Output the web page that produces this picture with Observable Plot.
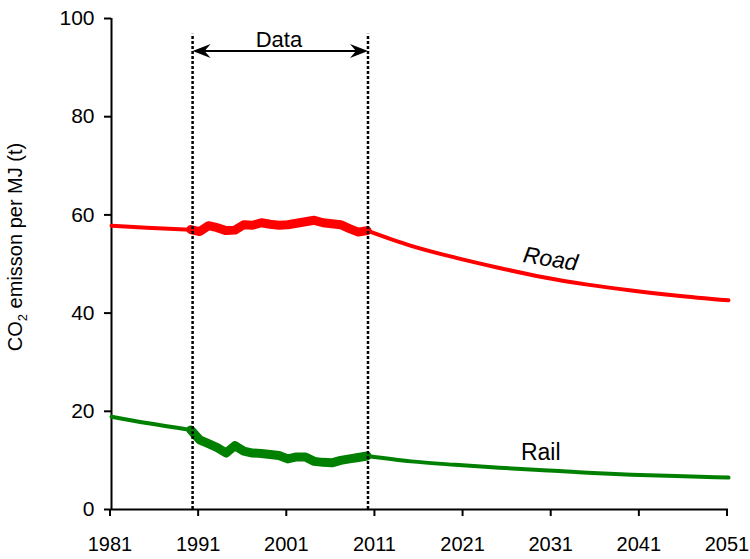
<!DOCTYPE html>
<html>
<head>
<meta charset="utf-8">
<script src="https://cdn.jsdelivr.net/npm/d3@7"></script>
<script src="https://cdn.jsdelivr.net/npm/@observablehq/plot@0.6"></script>
<style>
  html, body { margin: 0; padding: 0; background: #ffffff; }
  #chart { width: 750px; height: 559px; }
</style>
</head>
<body>
<div id="chart"></div>
<script>
// ---- data ----
const dataYears = [1990, 1991, 1992, 1993, 1994, 1995, 1996, 1997, 1998, 1999, 2000,
                   2001, 2002, 2003, 2004, 2005, 2006, 2007, 2008, 2009, 2010];
const roadData = [57.0, 56.6, 57.8, 57.4, 56.8, 56.9, 58.0, 57.9, 58.4, 58.1, 57.9,
                  58.0, 58.3, 58.6, 58.9, 58.4, 58.2, 58.0, 57.2, 56.5, 56.8];
const railData = [16.2, 14.2, 13.4, 12.6, 11.5, 13.0, 11.9, 11.5, 11.4, 11.2, 11.0,
                  10.3, 10.7, 10.7, 9.8, 9.6, 9.5, 10.0, 10.3, 10.6, 10.9];

const pastYears = [1981, 1985, 1990];
const roadPast = [57.8, 57.4, 57.0];
const railPast = [18.9, 17.6, 16.2];

const projYears = [2010, 2015, 2020, 2025, 2030, 2035, 2040, 2045, 2051];
const roadProj = [56.8, 53.7, 51.3, 49.2, 47.3, 45.8, 44.6, 43.6, 42.6];
const railProj = [10.9, 9.8, 9.1, 8.5, 8.0, 7.5, 7.1, 6.8, 6.5];

const xTicks = [1981, 1991, 2001, 2011, 2021, 2031, 2041, 2051];
const yTicks = [0, 20, 40, 60, 80, 100];

const dataPeriod = [1990.2, 2010.1];
const dataTop = 96.8;
const arrowLevel = 93.4;

const seriesLabels = [
  {text: "Road", year: 2030.8, value: 51.0, rotate: 9},
  {text: "Rail", year: 2029.7, value: 11.6, rotate: 0}
];
const periodLabel = [{text: "Data", year: 2000.0, value: 95.7}];

const ROAD = "#ff0000", RAIL = "#008000";

// ---- build tables ----
const mk = (xs, ys) => xs.map((x, i) => ({year: x, value: ys[i]}));
const roadDataT = mk(dataYears, roadData), railDataT = mk(dataYears, railData);
const roadPastT = mk(pastYears, roadPast), railPastT = mk(pastYears, railPast);
const roadProjT = mk(projYears, roadProj), railProjT = mk(projYears, railProj);

const arrowHead = {
  draw(ctx) {
    ctx.moveTo(0, 0);
    ctx.lineTo(-18, -7);
    ctx.lineTo(-12, 0);
    ctx.lineTo(-18, 7);
    ctx.closePath();
  }
};

const chart = Plot.plot({
  width: 750,
  height: 559,
  marginLeft: 111,
  marginRight: 22,
  marginTop: 18,
  marginBottom: 50,
  style: {fontFamily: "'Liberation Sans', Arial, sans-serif", fontSize: "20px", background: "#ffffff", color: "#000"},
  x: {domain: [1981, 2051]},
  y: {domain: [0, 100]},
  marks: [
    Plot.axisX({ticks: xTicks, tickFormat: d => String(d), tickSize: 7, tickPadding: 20, fontSize: 20, dx: -1.5, strokeWidth: 2, label: null}),
    Plot.axisY({ticks: yTicks, tickFormat: d => String(d), tickSize: 7, tickPadding: 10, fontSize: 21, strokeWidth: 2, label: null}),
    Plot.ruleY([0], {x1: 1981, x2: 2051, stroke: "#000", strokeWidth: 2}),
    Plot.ruleX([1981], {y1: 0, y2: 100, stroke: "#000", strokeWidth: 2}),
    // thin model lines
    Plot.line(roadPastT, {x: "year", y: "value", stroke: ROAD, strokeWidth: 4, curve: "monotone-x"}),
    Plot.line(roadProjT, {x: "year", y: "value", stroke: ROAD, strokeWidth: 4, curve: "monotone-x"}),
    Plot.line(railPastT, {x: "year", y: "value", stroke: RAIL, strokeWidth: 4, curve: "monotone-x"}),
    Plot.line(railProjT, {x: "year", y: "value", stroke: RAIL, strokeWidth: 4, curve: "monotone-x"}),
    // thick data lines
    Plot.line(roadDataT, {x: "year", y: "value", stroke: ROAD, strokeWidth: 9, strokeLinejoin: "round", curve: "linear"}),
    Plot.line(railDataT, {x: "year", y: "value", stroke: RAIL, strokeWidth: 9, strokeLinejoin: "round", curve: "linear"}),
    // data period markers
    Plot.ruleX(dataPeriod, {y1: 0, y2: dataTop, stroke: "#000", strokeWidth: 2.5, strokeDasharray: "3,2"}),
    Plot.ruleY([arrowLevel], {x1: dataPeriod[0] + 1.2, x2: dataPeriod[1] - 1.2, stroke: "#000", strokeWidth: 2}),
    Plot.dot([{year: dataPeriod[1], r: 0}, {year: dataPeriod[0], r: 180}], {
      x: "year", y: () => arrowLevel, symbol: arrowHead, rotate: "r", fill: "#000", stroke: "none", r: 5
    }),
    Plot.text(periodLabel, {x: "year", y: "value", text: "text", fontSize: 22, fill: "#000"}),
    Plot.text(seriesLabels, {x: "year", y: "value", text: "text", rotate: "rotate", fontSize: 23, fill: "#000"})
  ]
});

document.getElementById("chart").appendChild(chart);
const svg = d3.select(chart);
svg.selectAll("text").each(function() {
  const t = d3.select(this);
  if (t.text() === "Road") t.attr("font-style", "italic");
});

// y-axis title with subscript
const yl = svg.append("text")
  .attr("transform", "translate(22,247) rotate(-90)")
  .attr("text-anchor", "middle")
  .attr("font-family", "'Liberation Sans', Arial, sans-serif")
  .attr("font-size", 20)
  .attr("fill", "#000");
yl.append("tspan").text("CO");
yl.append("tspan").attr("font-size", 13).attr("dy", 5).text("2");
yl.append("tspan").attr("dy", -5).text(" emisson per MJ (t)");
</script>
</body>
</html>
